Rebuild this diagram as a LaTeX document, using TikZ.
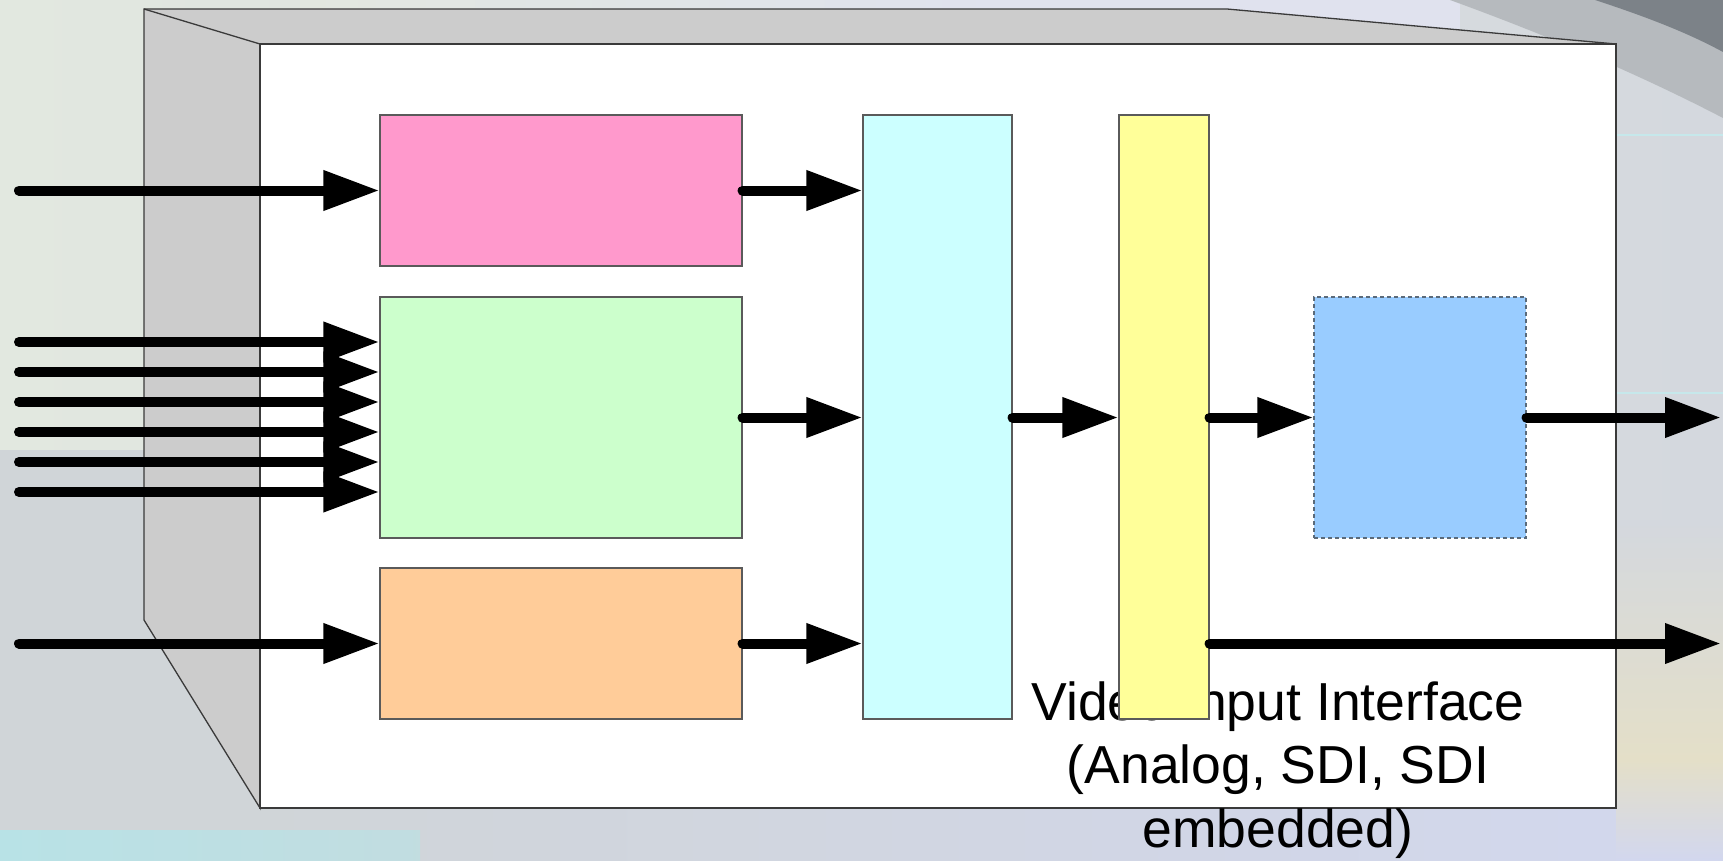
\documentclass[tikz,border=0pt]{standalone}
\usepackage{fontspec}
\setmainfont{Liberation Sans}
\usetikzlibrary{arrows.meta}

\definecolor{bgleft}{HTML}{E2E8E0}
\definecolor{bgright}{HTML}{D4D8DE}
\definecolor{bglav}{HTML}{E0E2EE}
\definecolor{bglow}{HTML}{D0D5D8}
\definecolor{bgfloor}{HTML}{CDCFD6}
\definecolor{bgcyan}{HTML}{B8E2E6}
\definecolor{bgbeige}{HTML}{E4DFC8}
\definecolor{bgsoft}{HTML}{D2D7EE}
\definecolor{bandlight}{HTML}{B6BABE}
\definecolor{banddark}{HTML}{7C8288}
\definecolor{sideface}{HTML}{CCCCCC}
\definecolor{edge}{HTML}{3A3A3A}
\definecolor{boxline}{HTML}{5A5A5A}
\definecolor{pinkbox}{HTML}{FF99CC}
\definecolor{greenbox}{HTML}{CCFFCC}
\definecolor{orangebox}{HTML}{FFCC99}
\definecolor{cyanbox}{HTML}{CCFFFF}
\definecolor{yellowbox}{HTML}{FFFF99}
\definecolor{bluebox}{HTML}{99CCFF}
\definecolor{dashline}{HTML}{5A6A7A}

\begin{document}
\begin{tikzpicture}[x=1pt,y=-1pt,
  blk/.style={draw=boxline, line width=1.2pt, inner sep=0pt},
  flow/.style={line width=10pt, line cap=round,
               -{Triangle[length=56pt,width=38pt]}},
  rim/.style={draw=edge, line width=1.3pt, line join=miter}]

% backdrop
\useasboundingbox (0,0) rectangle (1723,860);
\fill[left color=bgleft, right color=bgright] (0,0) rectangle (1723,860);
\fill[left color=bgleft, right color=bglav] (300,0) rectangle (1000,44);
\fill[bglav] (1000,0) rectangle (1460,44);
\fill[bglow] (0,450) rectangle (262,860);
\fill[left color=bglow, right color=bgsoft] (260,808) rectangle (1723,860);
\fill[left color=bgcyan, right color=bgcyan!60!bglow] (0,830) rectangle (420,860);
\fill[top color=bgright, bottom color=bgbeige] (1616,520) rectangle (1723,760);
\fill[top color=bgbeige, bottom color=bgsoft] (1616,760) rectangle (1723,860);
% curved bands in the upper right corner
\fill[bandlight] (1450,0) .. controls (1560,40) and (1650,80) .. (1723,118)
  -- (1723,0) -- cycle;
\fill[banddark] (1595,0) .. controls (1650,18) and (1690,34) .. (1723,52)
  -- (1723,0) -- cycle;
\draw[bgcyan!80!white, line width=1.5pt] (1616,135) -- (1723,135);
\draw[bgcyan!80!white, line width=1.5pt] (1616,393) -- (1723,393);

% housing: back and side faces
\filldraw[fill=sideface, rim]
  (144,9) -- (1227,9) -- (1616,44) -- (260,44) -- (260,808) -- (144,620) -- cycle;
\draw[rim] (144,9) -- (260,44);
% front face
\filldraw[fill=white, rim] (260,44) rectangle (1616,808);

% caption (base anchor sits on the last line)
\node[font=\fontsize{53.5}{63.5}\selectfont, align=center, anchor=base,
      inner sep=0pt] (caption) at (1278,847)
  {Video Input Interface\\(Analog, SDI, SDI\\embedded)};

% processing blocks
\node[blk, fill=pinkbox,   minimum width=362pt, minimum height=151pt] (pink)   at (561,190.5) {};
\node[blk, fill=greenbox,  minimum width=362pt, minimum height=241pt] (green)  at (561,417.5) {};
\node[blk, fill=orangebox, minimum width=362pt, minimum height=151pt] (orange) at (561,643.5) {};
\node[blk, fill=cyanbox,   minimum width=149pt, minimum height=604pt] (cyan)   at (937.5,417) {};
\node[blk, fill=yellowbox, minimum width=90pt,  minimum height=604pt] (yellow) at (1164,417) {};
\node[draw=dashline, line width=1.2pt, dash pattern=on 4pt off 3pt, inner sep=0pt,
      fill=bluebox, minimum width=212pt, minimum height=241pt] (blue) at (1420,417.5) {};

% free ends of the connectors
\coordinate (inA) at (19,190.5);
\coordinate (inB1) at (19,342);
\coordinate (inB2) at (19,372);
\coordinate (inB3) at (19,402);
\coordinate (inB4) at (19,432);
\coordinate (inB5) at (19,462);
\coordinate (inB6) at (19,492);
\coordinate (inC) at (19,643.5);
\coordinate (outA) at (1721,417.5);
\coordinate (outB) at (1721,643.5);

% inputs
\draw[flow] (inA) -- (pink.west);
\foreach \k in {1,...,6}{
  \draw[flow] (inB\k) -- (inB\k -| green.west);
}
\draw[flow] (inC) -- (orange.west);

% internal paths
\draw[flow] (pink.east) -- (pink.east -| cyan.west);
\draw[flow] (green.east) -- (green.east -| cyan.west);
\draw[flow] (orange.east) -- (orange.east -| cyan.west);
\draw[flow] (cyan.east |- green.east) -- (yellow.west |- green.east);
\draw[flow] (yellow.east |- blue.west) -- (blue.west);

% outputs
\draw[flow] (blue.east) -- (outA);
\draw[flow] (yellow.east |- outB) -- (outB);
\end{tikzpicture}
\end{document}
